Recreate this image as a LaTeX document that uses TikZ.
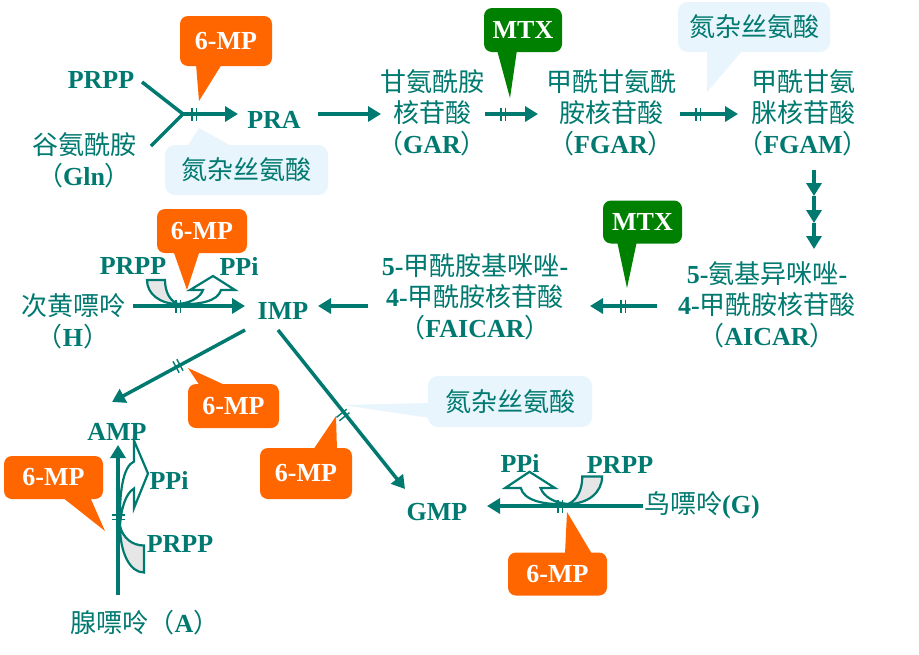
\documentclass[tikz,border=0pt]{standalone}
\usepackage{fontspec}
\setmainfont{Liberation Serif}
\newfontfamily\cjk{Noto Sans CJK SC}
\usetikzlibrary{arrows.meta}
\definecolor{tealc}{RGB}{0,122,112}
\definecolor{orangec}{RGB}{255,102,0}
\definecolor{greenc}{RGB}{0,128,0}
\definecolor{bluec}{RGB}{232,245,253}
\definecolor{grayc}{RGB}{230,230,230}
\newcommand{\zh}[1]{{\cjk\mdseries #1}}
\tikzset{
  brk/.pic={\draw[tealc, line width=1.4pt] (-2.2,-6.5) -- (-2.2,6.5) (2.2,-6.5) -- (2.2,6.5);},
  lbl/.style={text=tealc, inner sep=0pt, align=center},
  arr/.style={draw=tealc, line width=3.5pt, -{Triangle[length=13pt,width=15pt]}},
  seg/.style={draw=tealc, line width=3.5pt, line join=miter},
  mpbox/.style={fill=orangec, text=white, rounded corners=8pt, inner sep=0pt},
  mtxbox/.style={fill=greenc, text=white, rounded corners=8pt, inner sep=0pt},
  azabox/.style={fill=bluec, text=tealc, rounded corners=10pt, inner sep=0pt},
  rib/.style={draw=tealc, line width=2.2pt, line join=miter},
}
\newcommand{\ribbonshape}{%
  \filldraw[rib, fill=grayc] (-31,-24) -- (-13,-24) .. controls (-13,-12) and (-8,-3) .. (0,0)
     .. controls (-18,0) and (-31,-10) .. (-31,-24) -- cycle;
  \filldraw[rib, fill=white] (0,0) .. controls (22,1) and (40,-3) .. (43,-14) -- (57,-14) -- (35,-28)
     -- (12,-14) -- (25,-14) .. controls (22,-6) and (12,-1) .. (0,0) -- cycle;}
\begin{document}
\begin{tikzpicture}[x=1pt,y=-1pt,font=\fontsize{26}{31}\selectfont\bfseries]
\useasboundingbox (0,0) rectangle (919,654);
\fill[white] (0,0) rectangle (919,654);

% ---------- labels ----------
\node[lbl] (prpp1) at (101,80) {PRPP};
\node[lbl] (gln) at (84,160) {\zh{谷氨酰胺}\\\zh{（}Gln\zh{）}};
\node[lbl] (pra) at (274,120) {PRA};
\node[lbl] (gar) at (432,113) {\zh{甘氨酰胺}\\\zh{核苷酸}\\\zh{（}GAR\zh{）}};
\node[lbl] (fgar) at (611,113) {\zh{甲酰甘氨酰}\\\zh{胺核苷酸}\\\zh{（}FGAR\zh{）}};
\node[lbl] (fgam) at (803,113) {\zh{甲酰甘氨}\\\zh{脒核苷酸}\\\zh{（}FGAM\zh{）}};
\node[lbl] (aicar) at (767,305) {5-\zh{氨基异咪唑}-\\4-\zh{甲酰胺核苷酸}\\\zh{（}AICAR\zh{）}};
\node[lbl] (faicar) at (475,297) {5-\zh{甲酰胺基咪唑}-\\4-\zh{甲酰胺核苷酸}\\\zh{（}FAICAR\zh{）}};
\node[lbl] (imp) at (283,311) {IMP};
\node[lbl] (hx) at (73,321) {\zh{次黄嘌呤}\\\zh{（}H\zh{）}};
\node[lbl] (prpp2) at (133,266) {PRPP};
\node[lbl] (ppi1) at (239,266) {PPi};
\node[lbl] (amp) at (117,432) {AMP};
\node[lbl] (ppi3) at (169,480) {PPi};
\node[lbl] (prpp3) at (180,544) {PRPP};
\node[lbl] (ade) at (145,623) {\zh{腺嘌呤（}A\zh{）}};
\node[lbl] (gmp) at (437,512) {GMP};
\node[lbl] (ppi4) at (520,463) {PPi};
\node[lbl] (prpp4) at (620,465) {PRPP};
\node[lbl] (gua) at (702,505) {\zh{鸟嘌呤}(G)};

% ---------- connector end points ----------
\coordinate (c1) at (142,82);
\coordinate (c2) at (151,146);
\coordinate (j) at (183,114);
\coordinate (e1) at (238,114);
\coordinate (s2) at (318,114); \coordinate (e2) at (381,114);
\coordinate (s3) at (485,114); \coordinate (e3) at (538,114);
\coordinate (s4) at (680,114); \coordinate (e4) at (738,114);
\coordinate (d0) at (814,170); \coordinate (d1) at (814,196);
\coordinate (d2) at (814,223); \coordinate (d3) at (814,249);
\coordinate (s5) at (657,306); \coordinate (e5) at (590,306);
\coordinate (s6) at (368,306); \coordinate (e6) at (318,306);
\coordinate (s7) at (133,306); \coordinate (e7) at (245,306);
\coordinate (s8) at (245,330); \coordinate (e8) at (112,402);
\coordinate (s9) at (278,330); \coordinate (e9) at (405,489);
\coordinate (s10) at (118,595); \coordinate (e10) at (118,445);
\coordinate (s11) at (643,506); \coordinate (e11) at (487,506);

% ---------- connectors ----------
\draw[seg] (c1) -- (j) -- (c2);
\draw[arr] (j) -- (e1);
\draw[arr] (s2) -- (e2);
\draw[arr] (s3) -- (e3);
\draw[arr] (s4) -- (e4);
\draw[arr] (d0) -- (d1);
\draw[arr] (d1) -- (d2);
\draw[arr] (d2) -- (d3);
\draw[arr] (s5) -- (e5);
\draw[arr] (s6) -- (e6);
\draw[arr] (s7) -- (e7);
\draw[arr] (s8) -- (e8);
\draw[arr] (s9) -- (e9);
\draw[arr] (s10) -- (e10);
\draw[arr] (s11) -- (e11);

% ---------- block marks ----------
\coordinate (k1) at (194,114);
\coordinate (k2) at (503,114);
\coordinate (k3) at (698,114);
\coordinate (k4) at (623,306);
\coordinate (k5) at (178,306);
\coordinate (k6) at (178,366);
\coordinate (k7) at (343,415);
\coordinate (k8) at (118,517);
\coordinate (k9) at (560,506);
\pic at (k1) {brk};
\pic at (k2) {brk};
\pic at (k3) {brk};
\pic at (k4) {brk};
\pic at (k5) {brk};
\pic[rotate=28.4] at (k6) {brk};
\pic[rotate=-51.4] at (k7) {brk};
\pic[rotate=90] at (k8) {brk};
\pic at (k9) {brk};

% ---------- curved ribbon arrows ----------
\begin{scope}[shift={(178,304)}] \ribbonshape \end{scope}
\begin{scope}[shift={(568,504)}, xscale=-1.1, yscale=1.15] \ribbonshape \end{scope}
\begin{scope}[cm={0,1,1,0,(120,526)}, xscale=1.5] \ribbonshape \end{scope}

% ---------- callouts ----------
% 6-MP top
\fill[orangec] (196,64) -- (199,101) -- (222,64) -- cycle;
\node[mpbox, minimum width=92pt, minimum height=50pt] (mp1) at (226,41) {6-MP};
% azaserine 1
\fill[bluec] (187,147) -- (199,128) -- (233,147) -- cycle;
\node[azabox, minimum width=163pt, minimum height=50pt] (az1) at (246.5,170) {\zh{氮杂丝氨酸}};
% MTX 1
\fill[greenc] (497,50) -- (510,98) -- (517,50) -- cycle;
\node[mtxbox, minimum width=78pt, minimum height=44pt] (mtx1) at (523,30) {MTX};
% azaserine 2
\fill[bluec] (707,50) -- (707,92) -- (743,50) -- cycle;
\node[azabox, minimum width=152pt, minimum height=50pt] (az2) at (754,27) {\zh{氮杂丝氨酸}};
% MTX 2
\fill[greenc] (617,241) -- (627,288) -- (637,241) -- cycle;
\node[mtxbox, minimum width=79pt, minimum height=43pt] (mtx2) at (642.5,222) {MTX};
% 6-MP at hypoxanthine
\fill[orangec] (173,250) -- (187,290) -- (200,250) -- cycle;
\node[mpbox, minimum width=90pt, minimum height=44pt] (mp2) at (202,231) {6-MP};
% 6-MP on IMP->AMP
\fill[orangec] (200,386) -- (188,368) -- (227,386) -- cycle;
\node[mpbox, minimum width=91pt, minimum height=44pt] (mp3) at (233.5,406) {6-MP};
% 6-MP on IMP->GMP
\fill[orangec] (313,450) -- (336,416) -- (337,450) -- cycle;
\node[mpbox, minimum width=92pt, minimum height=51pt] (mp4) at (306,473.5) {6-MP};
% azaserine 3
\fill[bluec] (430,403) -- (343,405) -- (430,418) -- cycle;
\node[azabox, minimum width=164pt, minimum height=51pt] (az3) at (510,401.5) {\zh{氮杂丝氨酸}};
% 6-MP at adenine
\fill[orangec] (62,497) -- (105,531) -- (90,497) -- cycle;
\node[mpbox, minimum width=99pt, minimum height=43pt] (mp5) at (53.5,477.5) {6-MP};
% 6-MP at guanine
\fill[orangec] (565,554) -- (567,512) -- (592,554) -- cycle;
\node[mpbox, minimum width=99pt, minimum height=43pt] (mp6) at (557.5,574) {6-MP};
\end{tikzpicture}
\end{document}
